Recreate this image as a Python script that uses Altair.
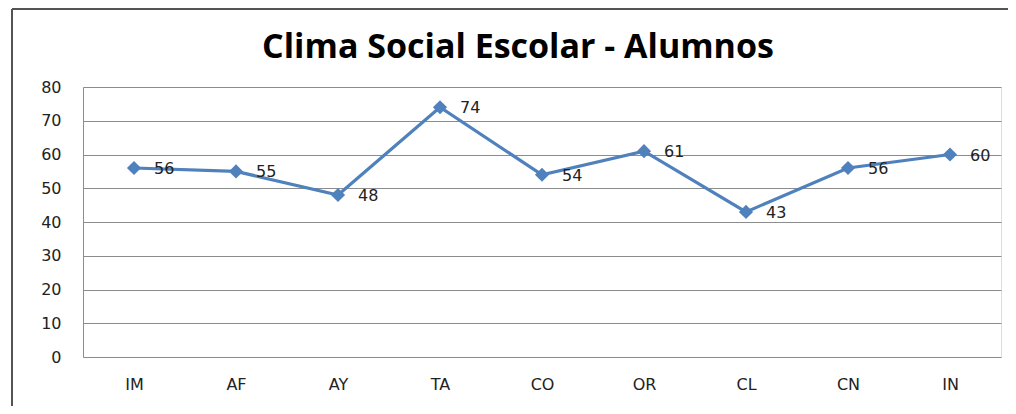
import altair as alt
import pandas as pd

categories = ["IM", "AF", "AY", "TA", "CO", "OR", "CL", "CN", "IN"]
values = [56, 55, 48, 74, 54, 61, 43, 56, 60]
y_ticks = [0, 10, 20, 30, 40, 50, 60, 70, 80]
title_text = "Clima Social Escolar - Alumnos"

df = pd.DataFrame({"cat": categories, "val": values})

FONT = "DejaVu Sans"
TFONT = "Open Sans"
BLUE = "#4F81BD"

x_enc = alt.X("cat:N", sort=categories, title=None,
              scale=alt.Scale(paddingInner=0, paddingOuter=0.5),
              axis=alt.Axis(labelAngle=0, ticks=False, domain=False,
                            labelFont=FONT, labelFontSize=16, labelColor="#222",
                            labelPadding=19))
y_enc = alt.Y("val:Q", title=None,
              scale=alt.Scale(domain=[0, 80], nice=False, zero=True),
              axis=alt.Axis(values=y_ticks, ticks=False, domain=True,
                            domainColor="#8c8c8c", gridColor="#8c8c8c",
                            gridWidth=1, labelFont=FONT, labelFontSize=16,
                            labelColor="#222", labelPadding=22))

line = alt.Chart(df).mark_line(color=BLUE, strokeWidth=3.2).encode(x=x_enc, y=y_enc)
pts = alt.Chart(df).mark_point(shape="diamond", filled=True, color=BLUE,
                               size=200, opacity=1).encode(x=x_enc, y=y_enc)
labels = alt.Chart(df).mark_text(align="left", baseline="middle", dx=20, dy=1,
                                 font=FONT, fontSize=16, color="#222").encode(
    x=x_enc, y=y_enc, text="val:Q")

# decorative outer chart-area frame
frame_left = alt.Chart(df).mark_rule(color="#555", strokeWidth=1.5).encode(
    x=alt.value(-71), y=alt.value(-78), y2=alt.value(330))
frame_top = alt.Chart(df).mark_rule(color="#555", strokeWidth=1.5).encode(
    x=alt.value(-71), x2=alt.value(925), y=alt.value(-78))

title = alt.Chart(pd.DataFrame({"t": [title_text]})).mark_text(
    font=TFONT, fontSize=34, fontWeight="bold", color="#000",
    align="center", baseline="alphabetic").encode(
    x=alt.value(435), y=alt.value(-29), text="t:N")

chart = alt.layer(frame_left, frame_top, title, line, pts, labels).properties(
    width=918, height=270,
    autosize=alt.AutoSizeParams(type="none"),
    padding={"left": 75, "top": 79, "right": 7, "bottom": 49},
).configure_view(stroke=None).configure(background="white")

chart.save("out.html", embed_options={"renderer": "svg", "actions": False})
